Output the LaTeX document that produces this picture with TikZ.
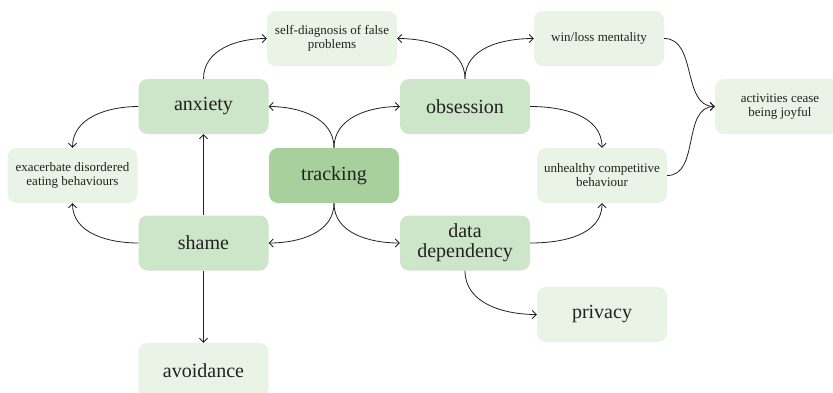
\documentclass[tikz,border=0pt]{standalone}
\usepackage{fontspec}
\setmainfont{Liberation Serif}
\usetikzlibrary{arrows.meta}
\definecolor{hubgreen}{HTML}{A8D09D}
\definecolor{maingreen}{HTML}{CDE5C8}
\definecolor{palegreen}{HTML}{E9F4E6}
\definecolor{inkdark}{HTML}{222222}
\begin{document}
\begin{tikzpicture}[x=1pt,y=-1pt,
  box/.style={rounded corners=9pt, minimum width=130pt, minimum height=55pt,
    align=center, inner sep=2pt, text=inkdark},
  bigbox/.style={box, fill=maingreen, font=\fontsize{20}{20}\selectfont},
  hubbox/.style={bigbox, fill=hubgreen},
  smallbox/.style={box, fill=palegreen, font=\fontsize{13}{14}\selectfont},
  palebig/.style={box, fill=palegreen, font=\fontsize{20}{20}\selectfont},
  link/.style={draw=inkdark, line width=0.8pt, -{Straight Barb[length=4pt,width=8pt]}}]
\useasboundingbox (0,0) rectangle (833,392);

% nodes
\node[hubbox]   (tracking)   at (334,175.5) {tracking};
\node[bigbox]   (anxiety)    at (203.5,106.5) {anxiety};
\node[bigbox]   (obsession)  at (465,106.5) {obsession};
\node[bigbox]   (shame)      at (203.5,243) {shame};
\node[bigbox]   (datadep)    at (465,243) {data\\dependency};
\node[smallbox] (selfdiag)   at (332,38.5) {self-diagnosis of false\\problems};
\node[smallbox] (winloss)    at (599,38.5) {win/loss mentality};
\node[smallbox] (activities) at (780,106.5) {activities cease\\being joyful};
\node[smallbox] (unhealthy)  at (602,175.5) {unhealthy competitive\\behaviour};
\node[smallbox] (exacerbate) at (72.5,175.5) {exacerbate disordered\\eating behaviours};
\node[palebig]  (privacy)    at (602,314.5) {privacy};
\node[palebig]  (avoidance)  at (203.5,370.5) {avoidance};

% connectors
\draw[link] (tracking.north) to[out=90,in=0] (anxiety.east);
\draw[link] (tracking.north) to[out=90,in=180] (obsession.west);
\draw[link] (tracking.south) to[out=-90,in=0] (shame.east);
\draw[link] (tracking.south) to[out=-90,in=180] (datadep.west);
\draw[link] (anxiety.north) to[out=90,in=180] (selfdiag.west);
\draw[link] (obsession.north) to[out=90,in=0] (selfdiag.east);
\draw[link] (obsession.north) to[out=90,in=180] (winloss.west);
\draw[link] (obsession.east) to[out=0,in=90] (unhealthy.north);
\draw[link] (anxiety.west) to[out=180,in=90] (exacerbate.north);
\draw[link] (shame.west) to[out=180,in=-90] (exacerbate.south);
\draw[link] (shame.north) -- (anxiety.south);
\draw[link] (shame.south) -- (avoidance.north);
\draw[link] (datadep.east) to[out=0,in=-90] (unhealthy.south);
\draw[link] (datadep.south) to[out=-90,in=180] (privacy.west);
\draw[link] (winloss.east) to[out=0,in=180] (activities.west);
\draw[link] (unhealthy.east) to[out=0,in=180] (activities.west);
\end{tikzpicture}
\end{document}
